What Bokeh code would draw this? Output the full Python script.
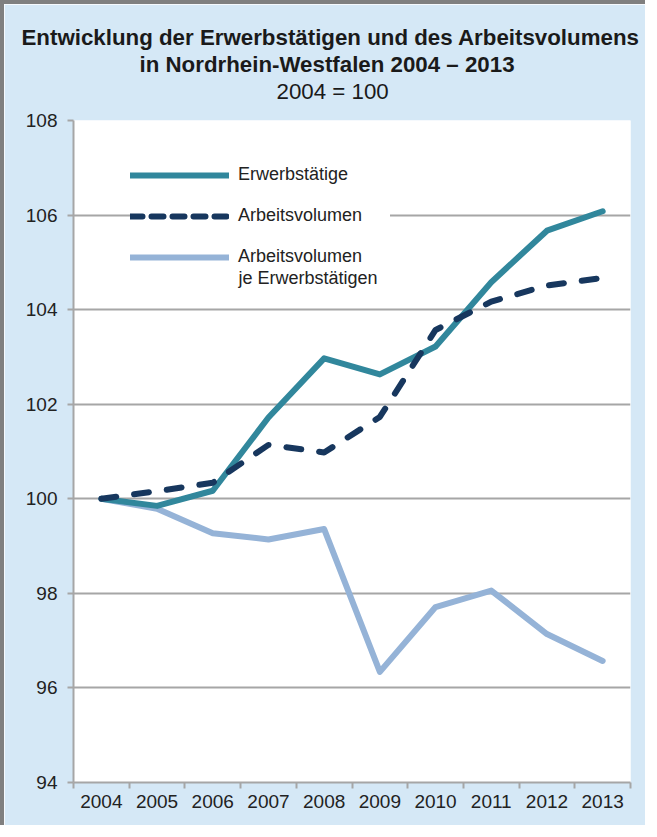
from bokeh.plotting import figure
from bokeh.models import Range1d, FixedTicker, Legend, LegendItem, Label, Title
from bokeh.embed import file_html
from bokeh.resources import INLINE

# ---- data ----
years = ["2004", "2005", "2006", "2007", "2008", "2009", "2010", "2011", "2012", "2013"]
erwerbstaetige = [100.0, 99.85, 100.17, 101.72, 102.97, 102.63, 103.22, 104.58, 105.67, 106.08]
arbeitsvolumen = [100.0, 100.16, 100.34, 101.14, 100.98, 101.73, 103.57, 104.17, 104.51, 104.67]
je_erwerbstaetigen = [100.0, 99.79, 99.27, 99.14, 99.36, 96.34, 97.71, 98.06, 97.14, 96.57]
y_ticks = [94, 96, 98, 100, 102, 104, 106, 108]

title_1 = "Entwicklung der Erwerbstätigen und des Arbeitsvolumens"
title_2 = "in Nordrhein-Westfalen 2004 – 2013"
title_3 = "2004 = 100"
series_names = ["Erwerbstätige", "Arbeitsvolumen", "Arbeitsvolumen", "je Erwerbstätigen"]

# ---- styles ----
FONT = "Liberation Sans"
BG = "#d5e8f6"
GRID = "#a6a6a6"
TEXT = "#222222"
C_TEAL = "#31879c"
C_NAVY = "#17375e"
C_LIGHT = "#95b3d7"

xs = list(range(len(years)))

p = figure(width=645, height=825, output_backend="svg", toolbar_location=None,
           x_range=Range1d(-0.5, len(years) - 0.5), y_range=Range1d(94, 108),
           min_border_left=69, min_border_right=19, min_border_top=116, min_border_bottom=47)
p.styles = {"border-top": "4px solid #7f7f7f", "border-left": "4px solid #7f7f7f"}
p.background_fill_color = "white"
p.border_fill_color = BG
p.outline_line_color = None

# titles (first added sits next to the plot, last added is outermost)
p.add_layout(Title(text=" ", text_font=FONT, text_font_size="10px", standoff=4), "above")
for txt, bold, off in [(title_3, False, 203), (title_2, True, 66), (title_1, True, -52)]:
    p.add_layout(Title(text=txt, align="left", offset=off, standoff=0,
                       text_font=FONT, text_font_size="22.3px",
                       text_font_style="bold" if bold else "normal",
                       text_color="#1a1a1a"), "above")

# axes
xa = p.xaxis[0]
xa.ticker = FixedTicker(ticks=xs, minor_ticks=[i - 0.5 for i in range(len(years) + 1)])
xa.major_label_overrides = {i: y for i, y in enumerate(years)}
xa.major_tick_line_color = None
xa.major_tick_out = 0
xa.major_tick_in = 0
xa.minor_tick_line_color = GRID
xa.minor_tick_line_width = 2
xa.minor_tick_out = 6
xa.minor_tick_in = 0
xa.axis_line_color = GRID
xa.axis_line_width = 2
xa.major_label_standoff = 6
xa.major_label_text_font = FONT
xa.major_label_text_font_size = "19px"
xa.major_label_text_color = TEXT

ya = p.yaxis[0]
ya.ticker = FixedTicker(ticks=y_ticks)
ya.minor_tick_line_color = None
ya.major_tick_line_color = GRID
ya.major_tick_line_width = 2
ya.major_tick_out = 6
ya.major_tick_in = 0
ya.axis_line_color = GRID
ya.axis_line_width = 2
ya.major_label_standoff = 10
ya.major_label_text_font = FONT
ya.major_label_text_font_size = "19px"
ya.major_label_text_color = TEXT

p.xgrid.grid_line_color = None
p.ygrid.grid_line_color = GRID
p.ygrid.grid_line_width = 2

# data lines
r3 = p.line(xs, je_erwerbstaetigen, line_color=C_LIGHT, line_width=6,
            line_join="round", line_cap="round")
r1 = p.line(xs, erwerbstaetige, line_color=C_TEAL, line_width=6,
            line_join="round", line_cap="round")
r2 = p.line(xs, arbeitsvolumen, line_color=C_NAVY, line_width=6,
            line_dash="15 18", line_join="round", line_cap="round")

# legend glyph stand-ins (a single NaN point, nothing drawn in the plot)
nan = float("nan")
l1 = p.line([nan], [nan], line_color=C_TEAL, line_width=6, line_cap="round")
l2 = p.line([nan], [nan], line_color=C_NAVY, line_width=6, line_dash="12 9", line_cap="round")
l3 = p.line([nan], [nan], line_color=C_LIGHT, line_width=6, line_cap="round")

legend = Legend(items=[LegendItem(label=series_names[0], renderers=[l1]),
                       LegendItem(label=series_names[1], renderers=[l2]),
                       LegendItem(label=series_names[2], renderers=[l3])],
                location=(57, 515), margin=0, padding=0, spacing=20,
                glyph_width=99, glyph_height=20, label_height=20, label_width=152,
                label_standoff=9, label_text_font=FONT, label_text_font_size="18px",
                label_text_color=TEXT, border_line_color=None,
                background_fill_color="white", background_fill_alpha=1.0)
p.add_layout(legend, "center")

p.add_layout(Label(x=165, y=505, x_units="screen", y_units="screen", text=series_names[3],
                   text_font=FONT, text_font_size="18px", text_color=TEXT,
                   text_baseline="middle", text_align="left"))

open("out.html", "w").write(file_html(p, INLINE))
